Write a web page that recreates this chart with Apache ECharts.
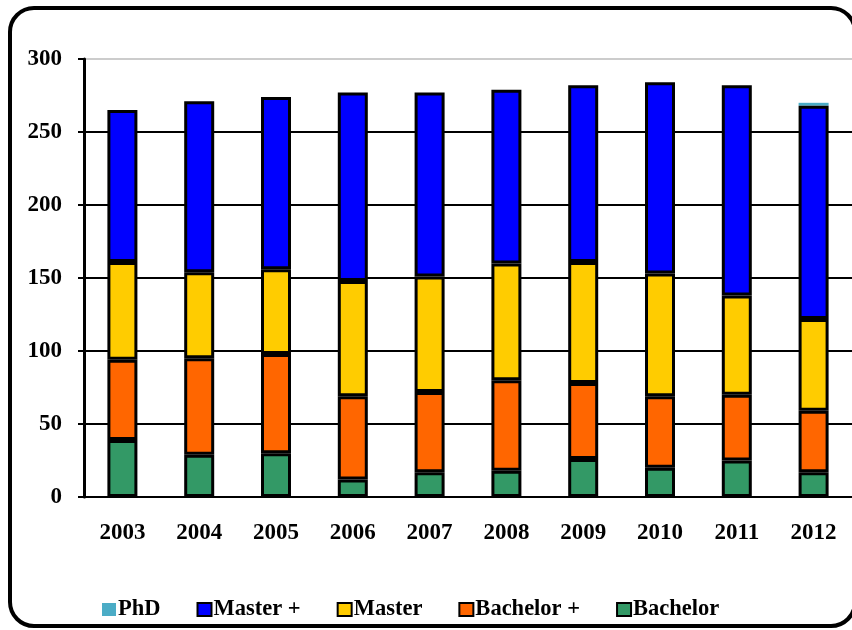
<!DOCTYPE html>
<html>
<head>
<meta charset="utf-8">
<script src="https://cdn.jsdelivr.net/npm/echarts@6/dist/echarts.min.js"></script>
<style>
html,body{margin:0;padding:0;background:#fff;}
#chart{width:852px;height:630px;}
</style>
</head>
<body>
<div id="chart"></div>
<script>
var years = ['2003','2004','2005','2006','2007','2008','2009','2010','2011','2012'];
var bachelor     = [39, 29, 30, 12, 17, 18, 26, 20, 25, 17];
var bachelorPlus = [55, 66, 68, 57, 55, 62, 52, 49, 45, 42];
var master       = [67, 59, 58, 79, 79, 80, 83, 84, 68, 63];
var masterPlus   = [104, 117, 118, 129, 126, 119, 121, 131, 144, 146];
var phd          = [0, 0, 0, 0, 0, 0, 0, 0, 0, 2];
var yTicks = [0, 50, 100, 150, 200, 250, 300];

var FONT = "'Liberation Serif','Times New Roman',serif";
var chart = echarts.init(document.getElementById('chart'));

function bar(name, data, color, z, bw) {
  return {
    name: name, type: 'bar', stack: 'total', data: data,
    barWidth: 30, z: z,
    itemStyle: { color: color, borderColor: '#000', borderWidth: bw }
  };
}

chart.setOption({
  animation: false,
  backgroundColor: '#fff',
  graphic: [{
    type: 'rect', z: 100,
    shape: { x: 10, y: 8, width: 845, height: 618, r: 24 },
    style: { fill: 'none', stroke: '#000', lineWidth: 4 }
  }],
  grid: { left: 84, top: 59, width: 777, height: 438 },
  legend: {
    left: 97, top: 593, padding: 5,
    itemWidth: 14, itemHeight: 13, itemGap: 36,
    icon: 'rect',
    itemStyle: { borderWidth: 2 },
    textStyle: { fontFamily: FONT, fontWeight: 'bold', fontSize: 22.5, color: '#000', padding: [0, 0, 0, -3] },
    data: [
      { name: 'PhD', itemStyle: { borderWidth: 0 } },
      'Master +', 'Master', 'Bachelor +', 'Bachelor'
    ]
  },
  xAxis: {
    type: 'category', data: years,
    axisLine: { lineStyle: { color: '#000', width: 2 } },
    axisTick: { length: 6, lineStyle: { color: '#888', width: 1.5 } },
    axisLabel: { margin: 25, fontFamily: FONT, fontWeight: 'bold', fontSize: 23, color: '#000' }
  },
  yAxis: {
    type: 'value', min: yTicks[0], max: yTicks[yTicks.length - 1], interval: yTicks[1] - yTicks[0],
    axisLine: { show: true, lineStyle: { color: '#000', width: 3 } },
    axisTick: { show: true, length: 6, lineStyle: { color: '#000', width: 2 } },
    axisLabel: { margin: 22, fontFamily: FONT, fontWeight: 'bold', fontSize: 23, color: '#000' },
    splitLine: { show: true, lineStyle: { color: ['#000','#000','#000','#000','#000','#000','#cccccc'], width: 2 } }
  },
  series: [
    bar('Bachelor', bachelor, '#339966', 3, 3),
    bar('Bachelor +', bachelorPlus, '#FF6600', 3, 3),
    bar('Master', master, '#FFCC00', 3, 3),
    bar('Master +', masterPlus, '#0000FF', 3, 3),
    bar('PhD', phd, '#4BACC6', 2, 0)
  ]
});
</script>
</body>
</html>
